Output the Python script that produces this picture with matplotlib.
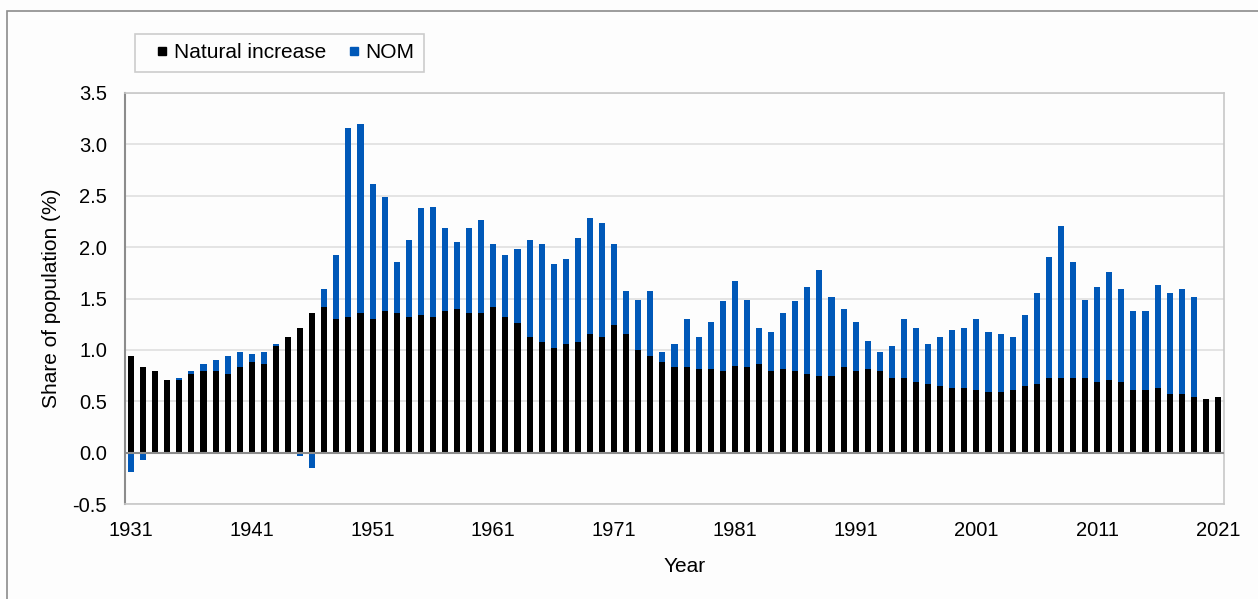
import numpy as np
import matplotlib
matplotlib.use("Agg")
import matplotlib.pyplot as plt
from matplotlib.patches import Rectangle
from matplotlib.lines import Line2D

years = list(range(1931, 2022))
natural = [0.94, 0.83, 0.79, 0.71, 0.71, 0.77, 0.79, 0.79, 0.77, 0.83,
           0.88, 0.86, 1.04, 1.13, 1.21, 1.36, 1.42, 1.30, 1.32, 1.36,
           1.30, 1.38, 1.36, 1.32, 1.34, 1.32, 1.38, 1.40, 1.36, 1.36,
           1.42, 1.32, 1.26, 1.13, 1.08, 1.02, 1.06, 1.08, 1.15, 1.13,
           1.24, 1.15, 1.00, 0.94, 0.88, 0.83, 0.83, 0.81, 0.81, 0.79,
           0.84, 0.83, 0.86, 0.79, 0.81, 0.79, 0.77, 0.75, 0.75, 0.83,
           0.79, 0.81, 0.79, 0.73, 0.73, 0.69, 0.67, 0.65, 0.63, 0.63,
           0.61, 0.59, 0.59, 0.61, 0.65, 0.67, 0.73, 0.73, 0.73, 0.73,
           0.69, 0.71, 0.69, 0.61, 0.61, 0.63, 0.57, 0.57, 0.54, 0.52,
           0.54]
total = [None, None, 0.79, 0.71, 0.73, 0.79, 0.86, 0.90, 0.94, 0.98,
         0.96, 0.98, 1.06, 1.13, None, None, 1.59, 1.92, 3.16, 3.20,
         2.61, 2.49, 1.86, 2.07, 2.38, 2.39, 2.19, 2.05, 2.19, 2.26,
         2.03, 1.92, 1.98, 2.07, 2.03, 1.84, 1.88, 2.09, 2.28, 2.23,
         2.03, 1.57, 1.49, 1.57, 0.98, 1.06, 1.30, 1.13, 1.27, 1.48,
         1.67, 1.49, 1.21, 1.17, 1.36, 1.48, 1.61, 1.78, 1.51, 1.40,
         1.27, 1.09, 0.98, 1.04, 1.30, 1.21, 1.06, 1.13, 1.19, 1.21,
         1.30, 1.17, 1.15, 1.13, 1.34, 1.55, 1.90, 2.21, 1.86, 1.49,
         1.61, 1.76, 1.59, 1.38, 1.38, 1.63, 1.55, 1.59, 1.51, 0.52,
         0.54]
negative_nom = {1931: -0.19, 1932: -0.07, 1945: -0.03, 1946: -0.15}

nat = np.array(natural)
nom = np.array([negative_nom.get(y, (t - n) if t is not None else 0.0)
                for y, t, n in zip(years, total, natural)])

plt.rcParams['font.family'] = ['Liberation Sans', 'DejaVu Sans']
FS = 14.5

W, H = 1258, 599
fig = plt.figure(figsize=(W / 100, H / 100), dpi=100)
fig.patch.set_facecolor('#fdfdfd')

# outer chart border (left/top visible)
fig.add_artist(Rectangle((7 / W, -0.1), 1.2, (H - 11) / H + 0.1,
                         transform=fig.transFigure, fill=False,
                         edgecolor='#8c8c8c', linewidth=1.2))

ax = fig.add_axes([125 / W, 1 - 504 / H, (1224 - 125) / W, (504 - 93) / H])
ax.set_facecolor('#fdfdfd')

x = np.arange(len(years))
blue = '#0058b8'
ax.bar(x, nat, width=0.5, color='black', zorder=3)
bottom = np.where(nom >= 0, nat, 0.0)
ax.bar(x, nom, width=0.5, bottom=bottom, color=blue, zorder=3)

ax.set_xlim(-0.5, len(years) - 0.5)
ax.set_ylim(-0.5, 3.5)
yt = np.arange(-0.5, 3.51, 0.5)
ax.set_yticks(yt)
ax.set_yticklabels([f'{v:.1f}' for v in yt], fontsize=FS)
tick_idx = [i for i, y in enumerate(years) if (y - 1931) % 10 == 0]
ax.set_xticks(tick_idx)
ax.set_xticklabels([str(years[i]) for i in tick_idx], fontsize=FS)
ax.tick_params(axis='both', length=0)
ax.tick_params(axis='x', pad=12)
ax.tick_params(axis='y', pad=13)

ax.grid(axis='y', color='#e0e0e0', linewidth=1.2, zorder=0)
ax.axhline(0, color='#8c8c8c', linewidth=1.5, zorder=4)
for s in ['top', 'right', 'bottom']:
    ax.spines[s].set_color('#c8c8c8')
    ax.spines[s].set_linewidth(1.2)
ax.spines['left'].set_color('#8c8c8c')
ax.spines['left'].set_linewidth(1.5)

ax.set_ylabel('Share of population (%)', fontsize=15, labelpad=8)
fig.text(685 / W, 1 - 567 / H, 'Year', ha='center', va='center', fontsize=15)

handles = [Line2D([], [], linestyle='none', marker='s', markersize=6,
                  markerfacecolor='black', markeredgecolor='black'),
           Line2D([], [], linestyle='none', marker='s', markersize=6,
                  markerfacecolor=blue, markeredgecolor=blue)]
leg = fig.legend(handles, ['Natural increase', 'NOM'], loc='upper left',
                 bbox_to_anchor=(135 / W, 1 - 34 / H),
                 ncol=2, frameon=True, fancybox=False, fontsize=15,
                 handlelength=1.7, handletextpad=-0.3,
                 columnspacing=0.5, borderpad=0.45, borderaxespad=0)
leg.get_frame().set_edgecolor('#c0c0c0')
leg.get_frame().set_linewidth(1.2)
leg.get_frame().set_facecolor('#fdfdfd')

fig.savefig('out.png', dpi=100, facecolor=fig.get_facecolor())
